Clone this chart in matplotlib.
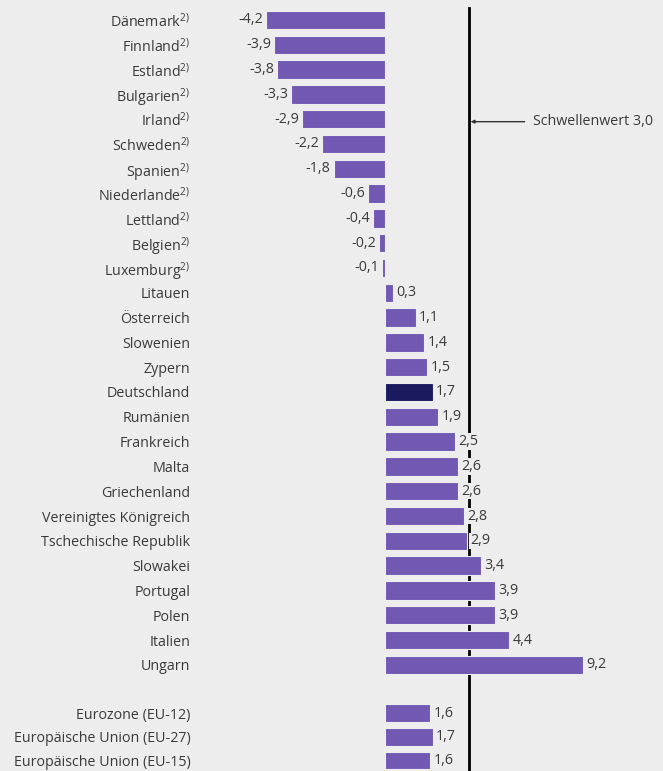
import numpy as np
import matplotlib
matplotlib.use("Agg")
from matplotlib import pyplot as plt

plt.rcParams['font.family'] = ['Open Sans', 'DejaVu Sans']
plt.rcParams['mathtext.default'] = 'regular'

countries = ["Dänemark", "Finnland", "Estland", "Bulgarien", "Irland", "Schweden", "Spanien",
             "Niederlande", "Lettland", "Belgien", "Luxemburg", "Litauen", "Österreich",
             "Slowenien", "Zypern", "Deutschland", "Rumänien", "Frankreich", "Malta",
             "Griechenland", "Vereinigtes Königreich", "Tschechische Republik", "Slowakei",
             "Portugal", "Polen", "Italien", "Ungarn"]
values = [-4.2, -3.9, -3.8, -3.3, -2.9, -2.2, -1.8, -0.6, -0.4, -0.2, -0.1, 0.3, 1.1,
          1.4, 1.5, 1.7, 1.9, 2.5, 2.6, 2.6, 2.8, 2.9, 3.4, 3.9, 3.9, 4.4, 9.2]
footnote = [True] * 11 + [False] * 16

groups = ["Eurozone (EU-12)", "Europäische Union (EU-27)", "Europäische Union (EU-15)"]
group_values = [1.6, 1.7, 1.6]

threshold = 3.0
highlight = "Deutschland"
bar_cap = 7.0  # Ungarn bar is drawn shortened in the original

BG = "#ededed"
PURPLE = "#7158b2"
NAVY = "#1b1a5e"
TEXT = "#3a3a3a"
FS = 10.3

W, H = 663, 771
fig = plt.figure(figsize=(W / 100, H / 100), dpi=100, facecolor=BG)
left_px = 200
ax = fig.add_axes([left_px / W, 0, 1 - left_px / W, 1])
ax.set_facecolor(BG)

px = 28.33  # pixels per unit
zero_px = 384.5
ax.set_xlim((left_px - zero_px) / px, (W - zero_px) / px)
row_px = 24.8
top_px = 20
ax.set_ylim((H - top_px) / row_px, -top_px / row_px)

y_main = np.arange(len(countries))
# summary rows sit a little tighter than the country rows
y_groups = len(countries) + 0.95 + np.arange(len(groups)) * 0.96

shown = np.minimum(values, bar_cap)
colors = [NAVY if c == highlight else PURPLE for c in countries]

# threshold line sits behind bars and labels
ax.plot([threshold, threshold], [-0.48, ax.get_ylim()[0]], color="black", lw=2, zorder=1)

ax.barh(y_main, shown, height=0.74, color=colors, edgecolor=BG, linewidth=0.8, zorder=2)
ax.barh(y_groups, group_values, height=0.7, color=PURPLE, edgecolor=BG, linewidth=0.8, zorder=2)

def fmt(v):
    return f"{v:.1f}".replace(".", ",")

box = dict(facecolor=BG, edgecolor="none", pad=0.5)
for y, v, s in zip(y_main, values, shown):
    if v < 0:
        ax.text(s - 0.1, y, fmt(v), ha="right", va="center", fontsize=FS, color=TEXT, zorder=3)
    else:
        ax.text(s + 0.12, y, fmt(v), ha="left", va="center", fontsize=FS, color=TEXT,
                bbox=box, zorder=3)
for y, v in zip(y_groups, group_values):
    ax.text(v + 0.12, y, fmt(v), ha="left", va="center", fontsize=FS, color=TEXT,
            bbox=box, zorder=3)

labels = [c + ("$^{2)}$" if f else "") for c, f in zip(countries, footnote)]
ax.set_yticks(list(y_main) + list(y_groups))
ax.set_yticklabels(labels + groups, fontsize=FS, color=TEXT)
ax.tick_params(axis="y", length=0, pad=7)
ax.set_xticks([])
for sp in ax.spines.values():
    sp.set_visible(False)

ax.annotate("Schwellenwert 3,0", xy=(threshold + 0.04, 4.1), xytext=(5.24, 4.1),
            va="center", ha="left", fontsize=FS, color=TEXT,
            arrowprops=dict(arrowstyle="-|>", color="#333333", lw=1, mutation_scale=5,
                            shrinkA=4, shrinkB=0))

fig.savefig("out.png", dpi=100, facecolor=BG)
